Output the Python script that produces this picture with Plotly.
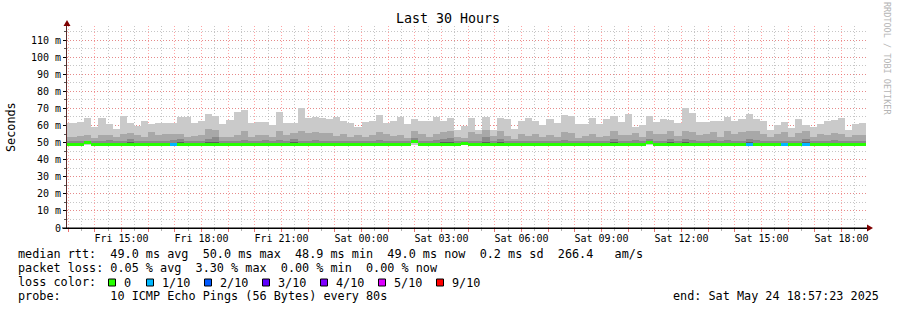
import plotly.graph_objects as go
import pandas as pd

# ---------------- data ----------------
# 16-minute consolidation steps, first step starts Fri 12:48 (partly before the window)
bar_start = pd.date_range('2025-05-23 12:48:00', periods=113, freq='16min')
step_ms = 16 * 60 * 1000

# outermost ping pair top (max of the 10 pings)
ping_max = [61.3, 61.3, 62.0, 64.5, 59.3, 64.5, 60.9, 57.7, 65.5, 61.3,
            59.9, 62.8, 60.9, 61.3, 61.6, 61.3, 65.1, 65.1, 61.3, 62.8,
            66.7, 65.5, 60.9, 63.2, 67.9, 69.0, 61.3, 62.0, 62.0, 60.3,
            67.9, 61.3, 61.3, 70.3, 64.2, 65.1, 64.2, 64.0, 65.1, 62.8,
            61.2, 58.9, 62.0, 62.8, 66.1, 61.6, 62.4, 65.1, 60.8, 63.7,
            62.8, 62.8, 65.1, 62.8, 64.2, 57.3, 59.6, 64.5, 57.3, 65.1,
            57.5, 64.5, 63.7, 57.9, 62.6, 64.5, 62.8, 60.3, 63.5, 61.6,
            66.1, 65.5, 60.8, 60.8, 64.5, 60.8, 63.7, 65.5, 62.2, 66.7,
            59.3, 60.3, 65.5, 62.2, 63.7, 63.2, 61.2, 70.0, 67.1, 62.2,
            62.2, 62.8, 62.8, 65.1, 62.8, 63.7, 66.7, 63.7, 62.6, 57.3,
            60.3, 61.8, 58.5, 63.7, 60.3, 59.3, 60.8, 62.6, 63.2, 64.2,
            57.3, 60.6, 61.2]
# second ping pair top
ping_p9 = [53.0, 53.0, 54.0, 54.5, 52.5, 54.5, 54.5, 53.0, 55.0, 55.5,
           54.5, 53.0, 56.0, 54.5, 55.0, 55.0, 55.0, 53.0, 54.0, 54.5,
           58.0, 57.5, 53.5, 53.5, 54.5, 57.0, 53.5, 54.5, 54.5, 53.0,
           57.0, 54.5, 55.5, 57.0, 55.5, 56.0, 55.5, 55.5, 54.0, 55.0,
           53.5, 54.5, 53.0, 54.5, 56.0, 55.0, 54.0, 54.5, 52.5, 57.0,
           55.0, 53.5, 55.0, 56.0, 56.5, 53.0, 52.5, 56.0, 55.0, 57.5,
           54.0, 56.5, 54.0, 52.0, 55.0, 54.0, 55.0, 53.5, 54.5, 53.5,
           56.0, 55.5, 52.5, 54.0, 55.0, 53.0, 54.0, 57.0, 54.5, 54.5,
           55.5, 53.0, 57.0, 55.0, 55.0, 56.5, 54.0, 57.0, 56.0, 54.5,
           55.0, 56.0, 53.5, 57.0, 55.0, 56.0, 57.0, 56.5, 55.0, 53.0,
           55.0, 56.0, 53.5, 55.5, 56.5, 53.5, 55.0, 54.5, 55.5, 55.0,
           53.0, 54.5, 54.5]
# third ping pair top
ping_p8 = [50.8, 50.8, 51.2, 51.2, 50.8, 51.2, 51.6, 50.8, 51.2, 52.3,
           51.2, 50.8, 51.2, 50.8, 51.2, 51.6, 52.3, 50.8, 50.8, 51.2,
           52.3, 53.3, 50.8, 51.2, 50.8, 51.6, 50.8, 50.8, 51.6, 50.8,
           51.6, 50.8, 52.3, 51.2, 50.8, 51.6, 51.2, 51.2, 50.8, 51.2,
           50.8, 51.2, 50.8, 50.8, 51.6, 50.8, 50.8, 51.2, 50.8, 52.8,
           51.2, 50.8, 51.6, 52.3, 52.8, 50.8, 50.8, 51.2, 50.8, 53.3,
           50.8, 52.3, 51.2, 50.8, 50.8, 51.2, 50.8, 50.8, 50.8, 50.8,
           51.6, 50.8, 50.8, 50.8, 51.2, 50.8, 50.8, 52.3, 51.2, 50.8,
           51.6, 50.8, 52.3, 50.8, 51.2, 52.3, 50.8, 52.3, 51.6, 51.2,
           50.8, 51.6, 50.8, 51.6, 50.8, 51.2, 52.3, 51.6, 50.8, 50.8,
           51.2, 51.2, 50.8, 51.2, 52.3, 50.8, 51.2, 50.8, 51.6, 50.8,
           50.8, 51.2, 51.2]
# fourth and fifth ping pair tops (mostly hidden under the median line)
ping_p7 = [49.8, 49.8, 49.8, 50.6, 49.8, 49.8, 49.8, 49.8, 49.8, 50.2,
           49.8, 49.8, 49.8, 49.8, 49.8, 49.8, 50.4, 49.8, 49.8, 49.8,
           50.2, 50.6, 49.8, 49.8, 49.8, 49.8, 49.8, 49.8, 49.8, 49.8,
           49.8, 49.8, 50.2, 49.8, 49.8, 49.8, 49.8, 49.8, 49.8, 49.8,
           49.8, 49.8, 49.8, 49.8, 49.8, 49.8, 49.8, 49.8, 49.8, 51.0,
           49.8, 49.8, 49.8, 50.2, 50.4, 49.8, 50.4, 49.8, 49.8, 50.6,
           49.8, 50.2, 49.8, 49.8, 49.8, 49.8, 49.8, 49.8, 49.8, 49.8,
           49.8, 49.8, 49.8, 49.8, 49.8, 49.8, 49.8, 50.2, 49.8, 49.8,
           49.8, 49.8, 50.9, 49.8, 49.8, 50.2, 49.8, 50.2, 49.8, 49.8,
           49.8, 49.8, 49.8, 49.8, 49.8, 49.8, 50.2, 49.8, 49.8, 49.8,
           49.8, 49.8, 49.8, 49.8, 50.2, 49.8, 49.8, 49.8, 49.8, 49.8,
           49.8, 49.8, 49.8]
ping_p6 = [49.5, 49.5, 49.5, 50.2, 49.5, 49.5, 49.5, 49.5, 49.5, 49.5,
           49.5, 49.5, 49.5, 49.5, 49.5, 49.5, 49.5, 49.5, 49.5, 49.5,
           49.5, 49.5, 49.5, 49.5, 49.5, 49.5, 49.5, 49.5, 49.5, 49.5,
           49.5, 49.5, 49.5, 49.5, 49.5, 49.5, 49.5, 49.5, 49.5, 49.5,
           49.5, 49.5, 49.5, 49.5, 49.5, 49.5, 49.5, 49.5, 49.5, 50.7,
           49.5, 49.5, 49.5, 49.5, 49.5, 49.5, 49.9, 49.5, 49.5, 49.5,
           49.5, 49.5, 49.5, 49.5, 49.5, 49.5, 49.5, 49.5, 49.5, 49.5,
           49.5, 49.5, 49.5, 49.5, 49.5, 49.5, 49.5, 49.5, 49.5, 49.5,
           49.5, 49.5, 50.6, 49.5, 49.5, 49.5, 49.5, 49.5, 49.5, 49.5,
           49.5, 49.5, 49.5, 49.5, 49.5, 49.5, 49.5, 49.5, 49.5, 49.5,
           49.5, 49.5, 49.5, 49.5, 49.5, 49.5, 49.5, 49.5, 49.5, 49.5,
           49.5, 49.5, 49.5]
# lowest ping of each step
ping_min = [47.7, 47.7, 47.7, 48.4, 47.7, 47.7, 47.7, 47.7, 47.7, 47.7,
            47.7, 47.7, 47.7, 47.7, 47.7, 48.3, 47.7, 47.7, 47.7, 47.7,
            47.7, 47.7, 47.7, 47.7, 47.7, 47.7, 47.7, 47.7, 47.7, 47.7,
            47.7, 47.7, 47.7, 47.7, 47.7, 47.7, 47.7, 47.7, 47.7, 47.7,
            47.7, 47.7, 47.7, 47.7, 47.7, 47.7, 47.7, 47.7, 47.7, 48.4,
            47.7, 47.7, 47.7, 47.7, 47.7, 47.7, 48.3, 47.7, 47.7, 47.7,
            47.7, 47.7, 47.7, 47.7, 47.7, 47.7, 47.7, 47.7, 47.7, 47.7,
            47.7, 47.7, 47.7, 47.7, 47.7, 47.7, 47.7, 47.7, 47.7, 47.7,
            47.7, 47.7, 48.4, 47.7, 47.7, 47.7, 47.7, 47.7, 47.7, 47.7,
            47.7, 47.7, 47.7, 47.7, 47.7, 47.7, 47.7, 47.7, 47.7, 47.7,
            47.7, 47.7, 47.7, 47.7, 47.7, 47.7, 47.7, 47.7, 47.7, 47.7,
            47.7, 47.7, 47.7]
# median rtt (ms)
median_rtt = [49.0, 49.0, 49.0, 49.8, 49.0, 49.0, 49.0, 49.0, 49.0, 49.0,
              49.0, 49.0, 49.0, 49.0, 49.0, 49.0, 49.0, 49.0, 49.0, 49.0,
              49.0, 49.0, 49.0, 49.0, 49.0, 49.0, 49.0, 49.0, 49.0, 49.0,
              49.0, 49.0, 49.0, 49.0, 49.0, 49.0, 49.0, 49.0, 49.0, 49.0,
              49.0, 49.0, 49.0, 49.0, 49.0, 49.0, 49.0, 49.0, 49.0, 50.5,
              49.0, 49.0, 49.0, 49.0, 49.0, 49.0, 49.6, 49.0, 49.0, 49.0,
              49.0, 49.0, 49.0, 49.0, 49.0, 49.0, 49.0, 49.0, 49.0, 49.0,
              49.0, 49.0, 49.0, 49.0, 49.0, 49.0, 49.0, 49.0, 49.0, 49.0,
              49.0, 49.0, 50.3, 49.0, 49.0, 49.0, 49.0, 49.0, 49.0, 49.0,
              49.0, 49.0, 49.0, 49.0, 49.0, 49.0, 49.0, 49.0, 49.0, 49.0,
              49.0, 49.0, 49.0, 49.0, 49.0, 49.0, 49.0, 49.0, 49.0, 49.0,
              49.0, 49.0, 49.0]
# packets lost out of 10 for each step
loss = [0] * 15 + [1] + [0] * 80 + [1] + [0] * 4 + [1] + [0] * 2 + [1] + [0] * 8

loss_colors = {0: '#26ff00', 1: '#00b8ff', 2: '#0059ff', 3: '#5e00ff',
               4: '#7e00ff', 5: '#dd00ff', 9: '#ff0000'}
loss_labels = ['0', '1/10', '2/10', '3/10', '4/10', '5/10', '9/10']
loss_keys = [0, 1, 2, 3, 4, 5, 9]

y_ticks = [0, 10, 20, 30, 40, 50, 60, 70, 80, 90, 100, 110]
y_ticktext = ['0', '10 m', '20 m', '30 m', '40 m', '50 m', '60 m', '70 m',
              '80 m', '90 m', '100 m', '110 m']
x_labels = ['Fri 15:00', 'Fri 18:00', 'Fri 21:00', 'Sat 00:00', 'Sat 03:00',
            'Sat 06:00', 'Sat 09:00', 'Sat 12:00', 'Sat 15:00', 'Sat 18:00']

t_start = pd.Timestamp('2025-05-23 12:57:23')
t_end = pd.Timestamp('2025-05-24 18:57:23')

# ---------------- figure ----------------
FONT = 'DejaVu Sans Mono'
centers = bar_start + pd.Timedelta(minutes=8)

fig = go.Figure()
layers = [
    (ping_min, ping_max, '#cacaca'),
    (median_rtt, ping_p9, '#a8a8a8'),
    (median_rtt, ping_p8, '#8a8a8a'),
    (median_rtt, ping_p7, '#5e5e5e'),
    (median_rtt, ping_p6, '#323232'),
]
for lo, hi, col in layers:
    fig.add_trace(go.Bar(
        x=centers, base=lo, y=[h - l for h, l in zip(hi, lo)],
        width=step_ms, marker=dict(color=col, line=dict(width=0)),
        hoverinfo='skip', showlegend=False))

# median line coloured by loss (3 px thick band around the median)
line_half = 0.88
fig.add_trace(go.Bar(
    x=centers, base=[m - line_half for m in median_rtt],
    y=[2 * line_half] * len(median_rtt), width=step_ms,
    marker=dict(color=[loss_colors[v] for v in loss], line=dict(width=0)),
    hoverinfo='skip', showlegend=False))

# axis ticks
hour_ticks = pd.date_range('2025-05-23 13:00', '2025-05-24 18:00', freq='1h')
label_map = {}
for lbl, t in zip(x_labels, pd.date_range('2025-05-23 15:00', periods=10, freq='3h')):
    label_map[t] = lbl
hour_text = [label_map.get(t, '') for t in hour_ticks]
half_ticks = pd.date_range('2025-05-23 13:30', '2025-05-24 18:30', freq='1h')

MGRID = 'rgba(255,90,90,0.55)'
GRID = 'rgba(160,160,160,0.6)'

fig.update_layout(
    width=897, height=310, autosize=False,
    margin=dict(l=67, r=30, t=26, b=82, pad=0),
    paper_bgcolor='#ffffff', plot_bgcolor='#ffffff',
    barmode='overlay', bargap=0, showlegend=False,
    font=dict(family=FONT, color='#000000', size=10),
    xaxis=dict(
        type='date', range=[t_start, t_end],
        tickmode='array', tickvals=list(hour_ticks), ticktext=hour_text,
        showgrid=True, gridcolor=MGRID, griddash='1px,2px', gridwidth=1,
        ticks='outside', ticklen=3, tickcolor='rgba(230,80,80,0.8)',
        ticklabelstandoff=-2,
        tickfont=dict(family=FONT, size=10, color='#000000'),
        showline=True, linecolor='#000000', linewidth=1,
        zeroline=False, fixedrange=True,
        minor=dict(tickmode='array', tickvals=list(half_ticks), showgrid=True,
                   gridcolor=GRID, griddash='1px,2px', gridwidth=1,
                   ticks='outside', ticklen=2, tickcolor='rgba(160,160,160,0.8)'),
    ),
    yaxis=dict(
        range=[0, 118.2],
        tickmode='array', tickvals=y_ticks, ticktext=y_ticktext,
        showgrid=True, gridcolor=MGRID, griddash='1px,2px', gridwidth=1,
        ticks='outside', ticklen=3, tickcolor='#000000',
        tickfont=dict(family=FONT, size=10, color='#000000'),
        showline=True, linecolor='#5a2a2a', linewidth=1,
        zeroline=False, fixedrange=True,
        minor=dict(dtick=5, tick0=0, showgrid=True, gridcolor=GRID,
                   griddash='1px,2px', gridwidth=1,
                   ticks='outside', ticklen=2, tickcolor='#555555'),
    ),
)


def px(x):
    return (x - 67) / 800.0


def py(y):
    return (228 - y) / 202.0


ann = []
ann.append(dict(text='Last 30 Hours', x=px(448), y=py(19), xref='paper', yref='paper',
                showarrow=False, xanchor='center', yanchor='middle',
                font=dict(family=FONT, size=13.3, color='#000000')))
ann.append(dict(text='Seconds', x=px(11), y=py(127), xref='paper', yref='paper',
                showarrow=False, xanchor='center', yanchor='middle', textangle=-90,
                font=dict(family=FONT, size=11.8, color='#000000')))
ann.append(dict(text='RRDTOOL / TOBI OETIKER', x=px(887), y=py(59), xref='paper', yref='paper',
                showarrow=False, xanchor='center', yanchor='middle', textangle=90,
                font=dict(family=FONT, size=8.5, color='#b4b4b4')))

NB = '\u00a0'
legend_lines = [
    (254, 'median rtt:  49.0 ms avg  50.0 ms max  48.9 ms min  49.0 ms now  0.2 ms sd  266.4   am/s'),
    (268, 'packet loss: 0.05 % avg  3.30 % max  0.00 % min  0.00 % now'),
    (282, 'loss color:'),
    (296, 'probe:       10 ICMP Echo Pings (56 Bytes) every 80s'),
]
for yy, txt in legend_lines:
    ann.append(dict(text=txt.replace(' ', NB), x=px(16), y=py(yy), xref='paper', yref='paper',
                    showarrow=False, xanchor='left', yanchor='middle',
                    font=dict(family=FONT, size=11.8, color='#000000')))
ann.append(dict(text='end: Sat May 24 18:57:23 2025'.replace(' ', NB), x=px(881), y=py(296),
                xref='paper', yref='paper', showarrow=False, xanchor='right', yanchor='middle',
                font=dict(family=FONT, size=11.8, color='#000000')))

shapes = []
box_x = [108.5, 146.5, 204.5, 262.5, 320.5, 378.5, 436.5]
for bx, key, lbl in zip(box_x, loss_keys, loss_labels):
    shapes.append(dict(type='rect', xref='paper', yref='paper',
                       x0=px(bx), x1=px(bx + 7), y0=py(286), y1=py(279),
                       fillcolor=loss_colors[key], line=dict(color='#000000', width=1)))
    ann.append(dict(text=lbl, x=px(bx + 13.5), y=py(282.5), xref='paper', yref='paper',
                    showarrow=False, xanchor='left', yanchor='middle',
                    font=dict(family=FONT, size=11.8, color='#000000')))

# axis extensions and arrows
shapes.append(dict(type='line', xref='paper', yref='paper', x0=px(62), x1=px(868),
                   y0=py(228), y1=py(228), line=dict(color='#000000', width=1)))
shapes.append(dict(type='path', xref='paper', yref='paper',
                   path='M %f %f L %f %f L %f %f Z' % (px(867), py(224.5), px(873), py(228), px(867), py(231.5)),
                   fillcolor='#7f0000', line=dict(color='#7f0000', width=0)))
shapes.append(dict(type='path', xref='paper', yref='paper',
                   path='M %f %f L %f %f L %f %f Z' % (px(63.5), py(26), px(67), py(20), px(70.5), py(26)),
                   fillcolor='#7f0000', line=dict(color='#7f0000', width=0)))

fig.update_layout(annotations=ann, shapes=shapes)
fig.write_html('out.html')
